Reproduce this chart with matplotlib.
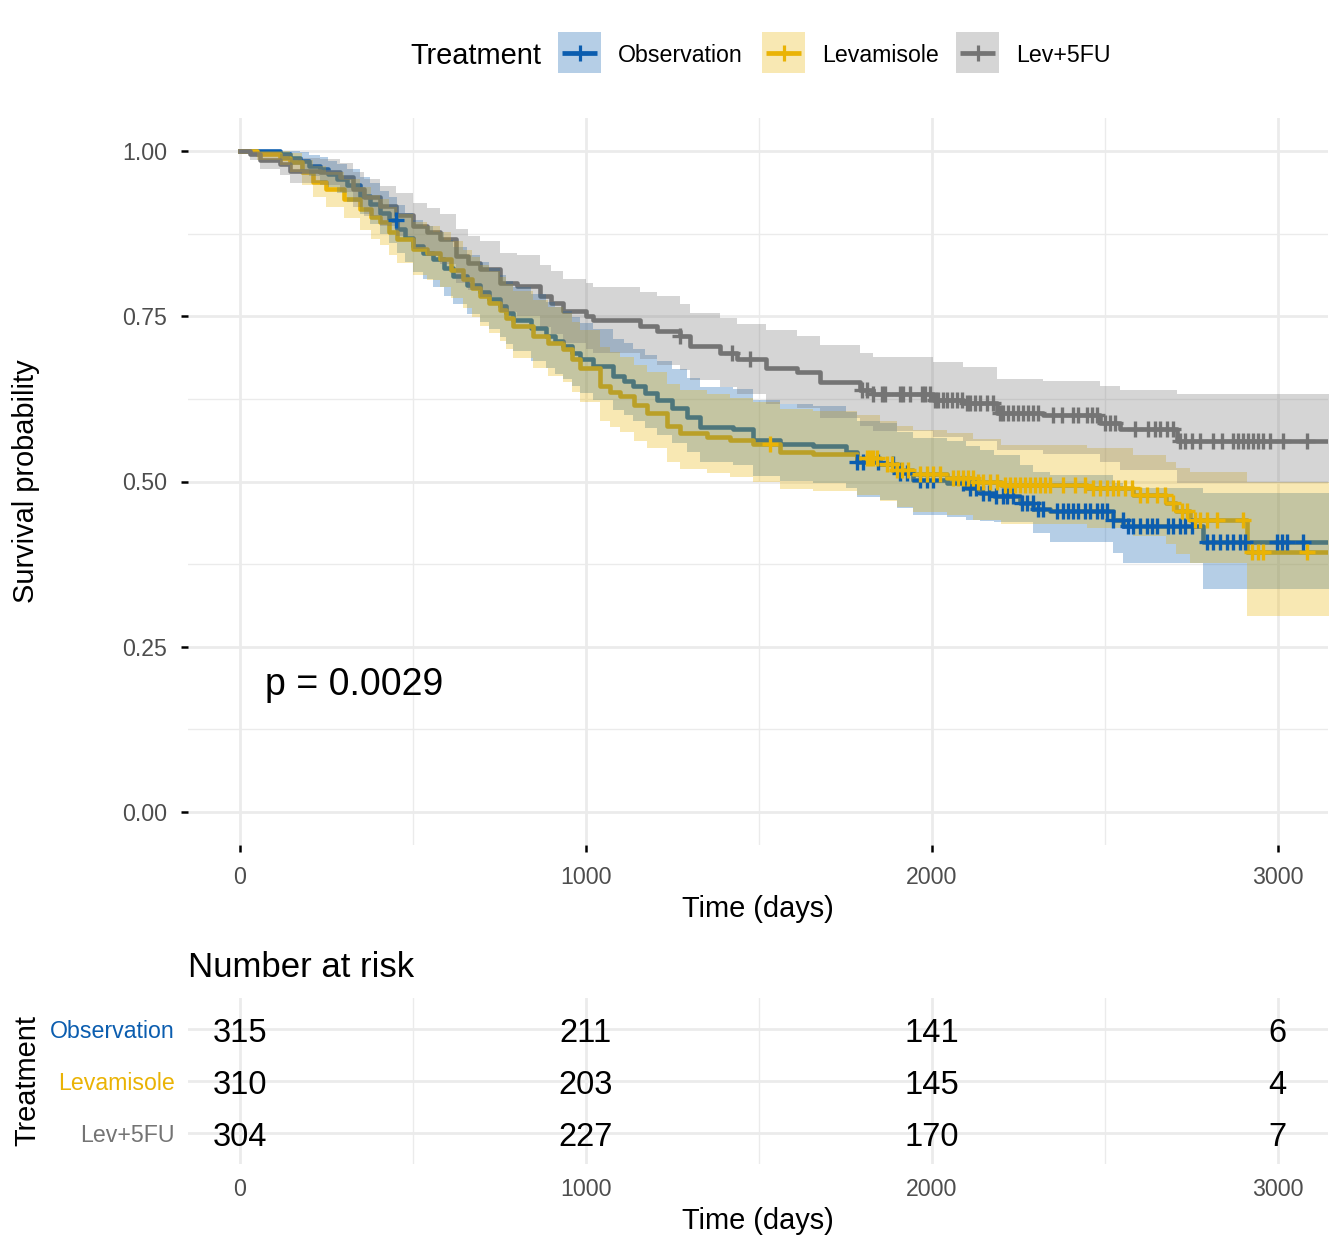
import numpy as np
import matplotlib
matplotlib.use("Agg")
import matplotlib.pyplot as plt
from matplotlib.patches import Rectangle

plt.rcParams["font.family"] = ["Liberation Sans", "DejaVu Sans"]

# ── Data ──────────────────────────────────────────────────────────────────────
GROUPS = ["Observation", "Levamisole", "Lev+5FU"]
COLORS = ["#0B5DAF", "#EAB305", "#747474"]

obs_time  = [0, 116, 145, 173, 200, 231, 255, 280, 310, 347, 375, 405, 430, 453, 478,
             501, 530, 559, 590, 617, 655, 694, 720, 751, 770, 790, 840, 886, 910, 934,
             960, 983, 1020, 1079, 1110, 1137, 1170, 1205, 1250, 1291, 1330, 1426, 1484,
             1561, 1657, 1753, 1783, 1850, 1898, 1946, 2043, 2100, 2139, 2180, 2254, 2293,
             2341, 2524, 2553, 2783, 3329]
obs_surv  = [1.000, 0.995, 0.990, 0.985, 0.978, 0.973, 0.965, 0.958, 0.948, 0.932, 0.920,
             0.907, 0.895, 0.882, 0.869, 0.856, 0.846, 0.836, 0.823, 0.811, 0.798, 0.786,
             0.776, 0.765, 0.755, 0.745, 0.732, 0.720, 0.712, 0.705, 0.695, 0.685, 0.675,
             0.660, 0.652, 0.644, 0.634, 0.624, 0.611, 0.598, 0.583, 0.579, 0.563, 0.556,
             0.553, 0.544, 0.530, 0.526, 0.513, 0.503, 0.498, 0.490, 0.483, 0.478, 0.468,
             0.458, 0.455, 0.442, 0.432, 0.408, 0.408]
obs_lower = [1.000, 0.987, 0.979, 0.972, 0.962, 0.955, 0.945, 0.936, 0.923, 0.904, 0.890,
             0.875, 0.861, 0.846, 0.832, 0.817, 0.806, 0.795, 0.781, 0.768, 0.754, 0.741,
             0.730, 0.718, 0.708, 0.697, 0.683, 0.671, 0.662, 0.655, 0.645, 0.634, 0.623,
             0.608, 0.600, 0.591, 0.581, 0.571, 0.558, 0.544, 0.529, 0.525, 0.508, 0.501,
             0.498, 0.490, 0.476, 0.472, 0.460, 0.450, 0.446, 0.442, 0.440, 0.438, 0.438,
             0.422, 0.408, 0.392, 0.377, 0.338, 0.338]
obs_upper = [1.000, 1.000, 1.000, 0.998, 0.994, 0.991, 0.985, 0.980, 0.973, 0.960, 0.951,
             0.940, 0.930, 0.919, 0.907, 0.896, 0.887, 0.878, 0.866, 0.855, 0.843, 0.832,
             0.823, 0.813, 0.804, 0.795, 0.783, 0.772, 0.764, 0.758, 0.749, 0.740, 0.730,
             0.716, 0.709, 0.701, 0.692, 0.682, 0.670, 0.657, 0.643, 0.640, 0.624, 0.617,
             0.614, 0.605, 0.592, 0.588, 0.575, 0.566, 0.561, 0.553, 0.547, 0.540, 0.525,
             0.515, 0.510, 0.498, 0.490, 0.482, 0.482]
obs_censor = [451, 1785, 1800, 1845, 1888, 1908, 1927, 1965, 1986, 2003, 2090, 2110, 2128,
              2147, 2166, 2185, 2205, 2217, 2234, 2260, 2275, 2292, 2306, 2321, 2361, 2379,
              2393, 2408, 2422, 2442, 2457, 2477, 2491, 2506, 2524, 2552, 2566, 2581, 2601,
              2621, 2636, 2650, 2682, 2697, 2717, 2731, 2751, 2795, 2812, 2832, 2853, 2870,
              2890, 2905, 2997, 3012, 3026, 3072]

lev_time  = [0, 48, 116, 145, 180, 212, 250, 300, 347, 380, 405, 430, 453, 501, 540, 578,
             610, 646, 670, 694, 720, 751, 770, 790, 848, 890, 934, 960, 983, 1040, 1070,
             1098, 1140, 1176, 1234, 1272, 1349, 1416, 1483, 1561, 1657, 1783, 1850, 1898,
             1946, 2043, 2120, 2200, 2447, 2582, 2678, 2707, 2746, 2910, 3329]
lev_surv  = [1.000, 0.995, 0.990, 0.983, 0.968, 0.953, 0.942, 0.928, 0.912, 0.900, 0.892,
             0.878, 0.867, 0.852, 0.845, 0.836, 0.820, 0.806, 0.793, 0.780, 0.770, 0.760,
             0.748, 0.735, 0.720, 0.710, 0.700, 0.686, 0.672, 0.644, 0.636, 0.629, 0.615,
             0.604, 0.584, 0.574, 0.568, 0.563, 0.556, 0.545, 0.541, 0.536, 0.526, 0.518,
             0.511, 0.506, 0.500, 0.495, 0.490, 0.480, 0.468, 0.455, 0.442, 0.394, 0.394]
lev_lower = [1.000, 0.987, 0.979, 0.969, 0.949, 0.930, 0.916, 0.899, 0.881, 0.867, 0.858,
             0.842, 0.830, 0.813, 0.805, 0.795, 0.778, 0.763, 0.749, 0.735, 0.724, 0.713,
             0.700, 0.687, 0.671, 0.660, 0.650, 0.635, 0.620, 0.591, 0.583, 0.575, 0.561,
             0.550, 0.529, 0.519, 0.513, 0.507, 0.500, 0.489, 0.485, 0.480, 0.470, 0.461,
             0.454, 0.449, 0.442, 0.436, 0.430, 0.418, 0.405, 0.390, 0.377, 0.296, 0.296]
lev_upper = [1.000, 1.000, 1.000, 0.997, 0.987, 0.977, 0.969, 0.958, 0.945, 0.934, 0.927,
             0.915, 0.905, 0.892, 0.886, 0.878, 0.864, 0.851, 0.839, 0.828, 0.819, 0.810,
             0.799, 0.788, 0.774, 0.764, 0.755, 0.742, 0.729, 0.703, 0.696, 0.689, 0.676,
             0.666, 0.647, 0.638, 0.632, 0.627, 0.620, 0.610, 0.606, 0.601, 0.592, 0.584,
             0.578, 0.573, 0.565, 0.555, 0.550, 0.540, 0.530, 0.520, 0.515, 0.500, 0.500]
lev_censor = [1532, 1812, 1821, 1830, 1841, 1870, 1884, 1898, 1913, 1931, 1965, 1986, 2003,
              2023, 2061, 2075, 2090, 2104, 2118, 2133, 2147, 2168, 2188, 2211, 2225, 2240,
              2254, 2269, 2283, 2298, 2312, 2327, 2341, 2379, 2413, 2442, 2466, 2486, 2506,
              2524, 2538, 2558, 2578, 2601, 2621, 2650, 2673, 2697, 2722, 2737, 2760, 2775,
              2795, 2824, 2900, 2925, 2942, 2957, 3084]

l5_time  = [0, 30, 58, 116, 145, 231, 289, 327, 360, 405, 450, 501, 540, 578, 626, 660,
            694, 751, 800, 867, 900, 934, 1000, 1021, 1156, 1205, 1272, 1301, 1387, 1436,
            1522, 1609, 1676, 1792, 1830, 2003, 2090, 2188, 2321, 2486, 2543, 2708, 3329]
l5_surv  = [1.000, 0.995, 0.986, 0.980, 0.970, 0.968, 0.960, 0.942, 0.930, 0.917, 0.903,
            0.887, 0.877, 0.867, 0.841, 0.830, 0.821, 0.800, 0.796, 0.780, 0.770, 0.758,
            0.750, 0.744, 0.735, 0.728, 0.720, 0.705, 0.695, 0.685, 0.672, 0.665, 0.651,
            0.639, 0.632, 0.624, 0.619, 0.604, 0.600, 0.589, 0.579, 0.561, 0.561]
l5_lower = [1.000, 0.987, 0.973, 0.964, 0.951, 0.948, 0.938, 0.916, 0.902, 0.887, 0.871,
            0.852, 0.841, 0.829, 0.801, 0.789, 0.779, 0.756, 0.751, 0.734, 0.723, 0.710,
            0.701, 0.695, 0.685, 0.677, 0.669, 0.653, 0.643, 0.632, 0.618, 0.611, 0.596,
            0.584, 0.576, 0.568, 0.562, 0.547, 0.542, 0.530, 0.518, 0.497, 0.497]
l5_upper = [1.000, 1.000, 0.999, 0.996, 0.989, 0.988, 0.982, 0.968, 0.958, 0.947, 0.936,
            0.922, 0.914, 0.905, 0.882, 0.872, 0.864, 0.845, 0.842, 0.827, 0.818, 0.807,
            0.800, 0.795, 0.787, 0.780, 0.768, 0.755, 0.747, 0.739, 0.729, 0.720, 0.706,
            0.695, 0.688, 0.681, 0.674, 0.655, 0.652, 0.645, 0.638, 0.632, 0.632]
l5_censor = [1272, 1421, 1474, 1798, 1812, 1830, 1855, 1864, 1908, 1916, 1936, 1971, 1980,
             1994, 2009, 2017, 2032, 2043, 2058, 2072, 2087, 2101, 2110, 2124, 2139, 2159,
             2176, 2197, 2205, 2220, 2234, 2249, 2263, 2277, 2292, 2306, 2350, 2376, 2408,
             2422, 2448, 2462, 2477, 2500, 2515, 2530, 2587, 2624, 2645, 2659, 2679, 2697,
             2717, 2731, 2751, 2775, 2812, 2838, 2870, 2884, 2899, 2913, 2928, 2942, 2957,
             2977, 3015, 3084]

risk_times  = [0, 1000, 2000, 3000]
risk_obs    = [315, 211, 141, 6]
risk_lev    = [310, 203, 145, 4]
risk_lev5fu = [304, 227, 170, 7]

PVAL = "p = 0.0029"

curves = [
    (obs_time, obs_surv, obs_lower, obs_upper, obs_censor),
    (lev_time, lev_surv, lev_lower, lev_upper, lev_censor),
    (l5_time, l5_surv, l5_lower, l5_upper, l5_censor),
]
risks = [risk_obs, risk_lev, risk_lev5fu]

# ── Style ─────────────────────────────────────────────────────────────────────
W, H = 1344, 1248
GRID = "#EBEBEB"
TICKC = "#4D4D4D"
XLIM = (-150, 3145)

def style_axes(ax):
    for s in ax.spines.values():
        s.set_visible(False)
    ax.set_xlim(*XLIM)
    ax.set_xticks(risk_times)
    ax.set_xticks([500, 1500, 2500], minor=True)
    ax.grid(which="major", color=GRID, lw=2.0)
    ax.grid(which="minor", color=GRID, lw=1.0)
    ax.set_axisbelow(True)
    ax.tick_params(which="minor", length=0)
    ax.tick_params(which="major", labelsize=16.7, labelcolor=TICKC, pad=10)

fig = plt.figure(figsize=(W / 100, H / 100), dpi=100)

# ── Survival curves ───────────────────────────────────────────────────────────
ax = fig.add_axes([188 / W, 1 - 845 / H, 1140 / W, 727 / H])
style_axes(ax)
ax.set_ylim(-0.05, 1.05)
ax.set_yticks([0, 0.25, 0.5, 0.75, 1.0])
ax.set_yticks([0.125, 0.375, 0.625, 0.875], minor=True)
ax.set_yticklabels(["0.00", "0.25", "0.50", "0.75", "1.00"])
ax.tick_params(which="major", length=5.2, width=1.8, color="black")

for (t, s, lo, up, cens), col in zip(curves, COLORS):
    ax.step(t, s, where="post", color=col, lw=3.3, zorder=2)
for (t, s, lo, up, cens), col in zip(curves, COLORS):
    ax.fill_between(t, lo, up, step="post", color=col, alpha=0.3, lw=0, zorder=3)
for (t, s, lo, up, cens), col in zip(curves, COLORS):
    idx = np.searchsorted(t, cens, side="right") - 1
    ax.plot(cens, np.asarray(s)[idx], ls="none", marker="+", ms=12, mew=2.4,
            color=col, zorder=4)

ax.text(72, 0.198, PVAL, fontsize=27, ha="left", va="center_baseline")
ax.set_xlabel("Time (days)", fontsize=20.9, labelpad=4.5)
ax.set_ylabel("Survival probability", fontsize=20.9)
ax.yaxis.set_label_coords(-0.1298, 0.5)

# ── Risk table ────────────────────────────────────────────────────────────────
ax2 = fig.add_axes([188 / W, 1 - 1164 / H, 1140 / W, 166 / H])
style_axes(ax2)
ax2.set_ylim(0.4, 3.6)
ax2.set_yticks([3, 2, 1])
ax2.set_yticklabels(GROUPS)
ax2.tick_params(which="major", length=0)
ax2.tick_params(axis="y", pad=9.5)
for lab, col in zip(ax2.get_yticklabels(), COLORS):
    lab.set_color(col)
for row, counts in zip([3, 2, 1], risks):
    for t, n in zip(risk_times, counts):
        ax2.text(t, row - 0.02, str(n), fontsize=23.5, ha="center",
                 va="center_baseline")
ax2.text(0.0, 1.205, "Number at risk", transform=ax2.transAxes, fontsize=25,
         ha="left", va="center_baseline")
ax2.set_xlabel("Time (days)", fontsize=20.9, labelpad=4.5)
ax2.set_ylabel("Treatment", fontsize=20.9)
ax2.yaxis.set_label_coords(-0.129, 0.5)

# ── Legend (top, horizontal) ──────────────────────────────────────────────────
lg = fig.add_axes([0, 1 - 100 / H, 1, 100 / H])
lg.set_xlim(0, W)
lg.set_ylim(100, 0)
lg.axis("off")
lg.text(410, 53, "Treatment", fontsize=20.9, ha="left", va="center_baseline")
key_x = [558, 762, 956]
for kx, name, col in zip(key_x, GROUPS, COLORS):
    lg.add_patch(Rectangle((kx, 32), 43, 41, color=col, alpha=0.3, lw=0))
    lg.plot([kx + 4, kx + 39], [53, 53], color=col, lw=3.4, solid_capstyle="butt")
    lg.plot([kx + 21.5], [53], marker="+", ms=12, mew=2.3, color=col)
    lg.text(kx + 60, 53, name, fontsize=16.7, ha="left", va="center_baseline")

fig.savefig("out.png", dpi=100)
